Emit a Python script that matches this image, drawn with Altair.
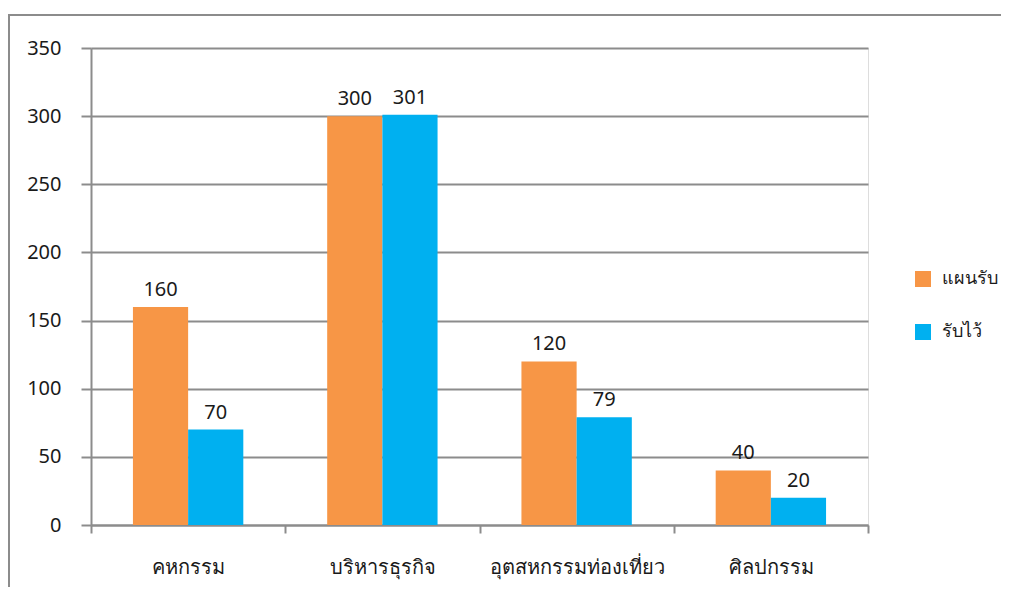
import altair as alt
import pandas as pd

categories = ["คหกรรม", "บริหารธุรกิจ", "อุตสหกรรมท่องเที่ยว", "ศิลปกรรม"]
series = ["แผนรับ", "รับไว้"]
plan_values = [160, 300, 120, 40]
accepted_values = [70, 301, 79, 20]
colors = ["#F79646", "#00B0F0"]

rows = []
for c, p, a in zip(categories, plan_values, accepted_values):
    rows.append({"cat": c, "series": series[0], "value": p})
    rows.append({"cat": c, "series": series[1], "value": a})
df = pd.DataFrame(rows)

FONT = "Noto Sans"
TXT = "#1a1a1a"

x_enc = alt.X("cat:N", sort=categories, title=None,
              scale=alt.Scale(paddingInner=0, paddingOuter=0),
              axis=alt.Axis(labelAngle=0, tickBand="extent", tickSize=8,
                            tickColor="#8c8c8c", domainColor="#8c8c8c",
                            domainWidth=2, tickWidth=2,
                            labelPadding=24, labelFontSize=20,
                            labelColor=TXT, labelFont=FONT, grid=False))
xo_enc = alt.XOffset("series:N", sort=series,
                     scale=alt.Scale(paddingInner=0, paddingOuter=0.76))
y_enc = alt.Y("value:Q", title=None,
              scale=alt.Scale(domain=[0, 350], nice=False),
              axis=alt.Axis(values=[0, 50, 100, 150, 200, 250, 300, 350],
                            grid=True, gridColor="#8c8c8c", gridWidth=2,
                            tickSize=10, tickColor="#8c8c8c", tickWidth=2,
                            domainColor="#8c8c8c", domainWidth=2,
                            labelPadding=20, labelFontSize=20,
                            labelColor=TXT, labelFont=FONT))

color_enc = alt.Color("series:N", sort=series,
                      scale=alt.Scale(domain=series, range=colors),
                      legend=alt.Legend(title=None, orient="none",
                                        legendX=823, legendY=222,
                                        symbolType="square", symbolSize=256,
                                        symbolStrokeWidth=0,
                                        labelFontSize=18, labelFont=FONT,
                                        labelColor=TXT, labelOffset=10,
                                        rowPadding=35))

bars = alt.Chart(df).mark_bar(opacity=1).encode(
    x=x_enc, xOffset=xo_enc, y=y_enc, color=color_enc)

labels = alt.Chart(df).mark_text(dy=-17, fontSize=20, font=FONT, color=TXT).encode(
    x=alt.X("cat:N", sort=categories), xOffset=xo_enc, y="value:Q",
    text="value:Q")

border = alt.Chart(pd.DataFrame({"k": [0]})).mark_rect(
    fill=None, stroke="#8c8c8c", strokeWidth=2, clip=False).encode(
    x=alt.value(-82), x2=alt.value(970), y=alt.value(-33), y2=alt.value(570))

chart = alt.layer(border, bars, labels).properties(
    width=777, height=477,
    padding={"left": 83, "top": 40, "right": 133, "bottom": 62},
    autosize=alt.AutoSizeParams(type="none"),
).configure_view(strokeWidth=0).configure(background="white")

chart.save("out.html", embed_options={"renderer": "svg", "actions": False})
